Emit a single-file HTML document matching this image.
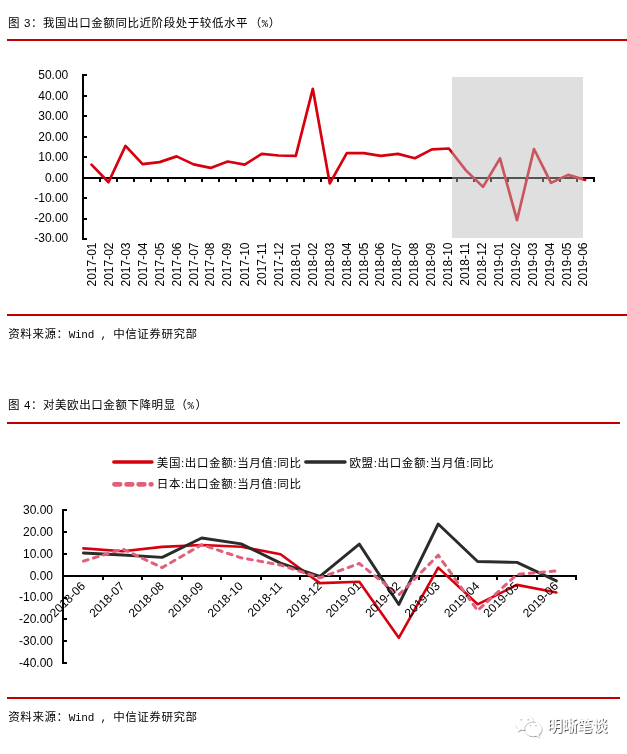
<!DOCTYPE html>
<html lang="zh-CN"><head><meta charset="utf-8"><title>图表</title>
<style>
html,body{margin:0;padding:0;background:#fff;}
body{width:627px;height:754px;overflow:hidden;position:relative;}
svg{position:absolute;left:0;top:0;display:block;}
.cn{font-family:"Liberation Sans","Noto Sans CJK SC",sans-serif;font-size:11.5px;letter-spacing:0.57px;fill:#000;}
.mono{font-family:"Liberation Mono","Noto Sans CJK SC",monospace;}
.ax{font-family:"Liberation Sans",sans-serif;font-size:12px;fill:#000;}
.axis{stroke:#000;stroke-width:2;fill:none;shape-rendering:crispEdges;}
.rule{fill:#c00000;}
</style></head><body>
<svg width="627" height="754" viewBox="0 0 627 754">
<rect x="0" y="0" width="627" height="754" fill="#fff"/>
<!-- 图3 -->
<text class="cn" x="8.1" y="26.6">图 3：我国出口金额同比近阶段处于较低水平<tspan dx="1.6">（</tspan><tspan class="mono" font-size="10.5" letter-spacing="0">%</tspan><tspan dx="0.7">）</tspan></text>
<rect class="rule" x="7" y="39" width="620" height="2"/>
<path class="axis" d="M83,74V240M83,75h4M83,96h4M83,116h4M83,137h4M83,157h4M83,198h4M83,219h4M83,239h4M82,178H595M100,178v4M117,178v4M134,178v4M151,178v4M168,178v4M185,178v4M202,178v4M219,178v4M236,178v4M253,178v4M270,178v4M287,178v4M304,178v4M321,178v4M338,178v4M355,178v4M372,178v4M389,178v4M406,178v4M423,178v4M440,178v4M457,178v4M474,178v4M491,178v4M508,178v4M526,178v4M543,178v4M560,178v4M577,178v4M594,178v4"/>
<text class="ax" x="68.3" y="79" text-anchor="end">50.00</text>
<text class="ax" x="68.3" y="100" text-anchor="end">40.00</text>
<text class="ax" x="68.3" y="120" text-anchor="end">30.00</text>
<text class="ax" x="68.3" y="141" text-anchor="end">20.00</text>
<text class="ax" x="68.3" y="161" text-anchor="end">10.00</text>
<text class="ax" x="68.3" y="182" text-anchor="end">0.00</text>
<text class="ax" x="68.3" y="202" text-anchor="end">-10.00</text>
<text class="ax" x="68.3" y="222" text-anchor="end">-20.00</text>
<text class="ax" x="68.3" y="242" text-anchor="end">-30.00</text>
<polyline points="91.5,164.6 108.5,182.3 125.5,145.9 142.6,164.2 159.6,162.1 176.6,156.4 193.6,164.4 210.6,167.9 227.7,161.5 244.7,164.6 261.7,153.9 278.7,155.5 295.8,155.8 312.8,88.8 329.8,183.4 346.8,153.1 363.8,153.1 380.8,155.8 397.9,153.9 414.9,158.2 431.9,149.4 448.9,148.5 465.9,170.4 483.0,186.9 500.0,158.4 517.0,220.2 534.0,149.0 551.0,182.9 568.1,174.9 585.1,179.9" fill="none" stroke="#d7000f" stroke-width="2.7" stroke-linejoin="round" stroke-linecap="round"/>
<rect x="452" y="77" width="131" height="161" fill="#bababa" fill-opacity="0.46"/>
<text class="ax" transform="translate(96,242.5) rotate(-90)" text-anchor="end">2017-01</text>
<text class="ax" transform="translate(113,242.5) rotate(-90)" text-anchor="end">2017-02</text>
<text class="ax" transform="translate(130,242.5) rotate(-90)" text-anchor="end">2017-03</text>
<text class="ax" transform="translate(147,242.5) rotate(-90)" text-anchor="end">2017-04</text>
<text class="ax" transform="translate(164,242.5) rotate(-90)" text-anchor="end">2017-05</text>
<text class="ax" transform="translate(181,242.5) rotate(-90)" text-anchor="end">2017-06</text>
<text class="ax" transform="translate(198,242.5) rotate(-90)" text-anchor="end">2017-07</text>
<text class="ax" transform="translate(214,242.5) rotate(-90)" text-anchor="end">2017-08</text>
<text class="ax" transform="translate(231,242.5) rotate(-90)" text-anchor="end">2017-09</text>
<text class="ax" transform="translate(249,242.5) rotate(-90)" text-anchor="end">2017-10</text>
<text class="ax" transform="translate(266,242.5) rotate(-90)" text-anchor="end">2017-11</text>
<text class="ax" transform="translate(283,242.5) rotate(-90)" text-anchor="end">2017-12</text>
<text class="ax" transform="translate(300,242.5) rotate(-90)" text-anchor="end">2018-01</text>
<text class="ax" transform="translate(317,242.5) rotate(-90)" text-anchor="end">2018-02</text>
<text class="ax" transform="translate(334,242.5) rotate(-90)" text-anchor="end">2018-03</text>
<text class="ax" transform="translate(351,242.5) rotate(-90)" text-anchor="end">2018-04</text>
<text class="ax" transform="translate(368,242.5) rotate(-90)" text-anchor="end">2018-05</text>
<text class="ax" transform="translate(384,242.5) rotate(-90)" text-anchor="end">2018-06</text>
<text class="ax" transform="translate(401,242.5) rotate(-90)" text-anchor="end">2018-07</text>
<text class="ax" transform="translate(418,242.5) rotate(-90)" text-anchor="end">2018-08</text>
<text class="ax" transform="translate(435,242.5) rotate(-90)" text-anchor="end">2018-09</text>
<text class="ax" transform="translate(452,242.5) rotate(-90)" text-anchor="end">2018-10</text>
<text class="ax" transform="translate(469,242.5) rotate(-90)" text-anchor="end">2018-11</text>
<text class="ax" transform="translate(486,242.5) rotate(-90)" text-anchor="end">2018-12</text>
<text class="ax" transform="translate(503,242.5) rotate(-90)" text-anchor="end">2019-01</text>
<text class="ax" transform="translate(520,242.5) rotate(-90)" text-anchor="end">2019-02</text>
<text class="ax" transform="translate(537,242.5) rotate(-90)" text-anchor="end">2019-03</text>
<text class="ax" transform="translate(554,242.5) rotate(-90)" text-anchor="end">2019-04</text>
<text class="ax" transform="translate(571,242.5) rotate(-90)" text-anchor="end">2019-05</text>
<text class="ax" transform="translate(587,242.5) rotate(-90)" text-anchor="end">2019-06</text>
<rect class="rule" x="7" y="314" width="620" height="2"/>
<text class="cn" x="8.3" y="338.0">资料来源：<tspan class="mono" font-size="11" letter-spacing="-0.25">Wind , </tspan>中信证券研究部</text>
<!-- 图4 -->
<text class="cn" x="8.1" y="408.6">图 4：对美欧出口金额下降明显<tspan dx="-0.2">（</tspan><tspan class="mono" font-size="10.5" letter-spacing="0">%</tspan><tspan dx="1.5">）</tspan></text>
<rect class="rule" x="7" y="422" width="613" height="2"/>
<line x1="113.8" y1="462" x2="152" y2="462" stroke="#d7000f" stroke-width="3.4" stroke-linecap="round"/>
<text class="cn" x="156.8" y="466.5" textLength="144.7">美国:出口金额:当月值:同比</text>
<line x1="305.8" y1="462" x2="345" y2="462" stroke="#2b2b2b" stroke-width="3.4" stroke-linecap="round"/>
<text class="cn" x="349.5" y="466.5" textLength="144.7">欧盟:出口金额:当月值:同比</text>
<line x1="114.5" y1="484.3" x2="151.5" y2="484.3" stroke="#e0607a" stroke-width="4.8" stroke-linecap="round" stroke-dasharray="5.6 6.5"/>
<text class="cn" x="156.8" y="488.4" textLength="144.7">日本:出口金额:当月值:同比</text>
<path class="axis" d="M63,509V664M63,510h4M63,532h4M63,554h4M63,598h4M63,619h4M63,641h4M63,663h4M62,576H577M103,576v4M142,576v4M182,576v4M221,576v4M261,576v4M300,576v4M340,576v4M379,576v4M419,576v4M458,576v4M497,576v4M537,576v4M576,576v4"/>
<text class="ax" x="53" y="514" text-anchor="end">30.00</text>
<text class="ax" x="53" y="536" text-anchor="end">20.00</text>
<text class="ax" x="53" y="558" text-anchor="end">10.00</text>
<text class="ax" x="53" y="580" text-anchor="end">0.00</text>
<text class="ax" x="53" y="601" text-anchor="end">-10.00</text>
<text class="ax" x="53" y="623" text-anchor="end">-20.00</text>
<text class="ax" x="53" y="645" text-anchor="end">-30.00</text>
<text class="ax" x="53" y="667" text-anchor="end">-40.00</text>
<polyline points="83.4,548.4 122.8,551.3 162.2,546.9 201.7,545.0 241.1,546.7 280.5,554.3 319.9,583.1 359.3,581.8 398.8,637.8 438.2,567.6 477.6,604.3 517.0,584.9 556.4,592.5" fill="none" stroke="#d7000f" stroke-width="2.6" stroke-linejoin="round" stroke-linecap="round"/>
<polyline points="83.4,553.0 122.8,555.0 162.2,557.4 201.7,538.0 241.1,543.9 280.5,563.1 319.9,576.4 359.3,544.1 398.8,604.5 438.2,524.0 477.6,561.5 517.0,562.4 556.4,580.9" fill="none" stroke="#2b2b2b" stroke-width="2.9" stroke-linejoin="round" stroke-linecap="round"/>
<polyline points="83.4,561.1 122.8,549.1 162.2,567.6 201.7,544.7 241.1,557.8 280.5,565.0 319.9,577.9 359.3,563.5 398.8,594.9 438.2,555.2 477.6,610.6 517.0,574.4 556.4,570.9" fill="none" stroke="#e0607a" stroke-width="3" stroke-linejoin="round" stroke-linecap="round" stroke-dasharray="4.8 5.7"/>
<text class="ax" transform="translate(85.9,586.9) rotate(-45)" text-anchor="end">2018-06</text>
<text class="ax" transform="translate(125.3,586.9) rotate(-45)" text-anchor="end">2018-07</text>
<text class="ax" transform="translate(164.7,586.9) rotate(-45)" text-anchor="end">2018-08</text>
<text class="ax" transform="translate(204.2,586.9) rotate(-45)" text-anchor="end">2018-09</text>
<text class="ax" transform="translate(243.6,586.9) rotate(-45)" text-anchor="end">2018-10</text>
<text class="ax" transform="translate(283.0,586.9) rotate(-45)" text-anchor="end">2018-11</text>
<text class="ax" transform="translate(322.4,586.9) rotate(-45)" text-anchor="end">2018-12</text>
<text class="ax" transform="translate(361.8,586.9) rotate(-45)" text-anchor="end">2019-01</text>
<text class="ax" transform="translate(401.3,586.9) rotate(-45)" text-anchor="end">2019-02</text>
<text class="ax" transform="translate(440.7,586.9) rotate(-45)" text-anchor="end">2019-03</text>
<text class="ax" transform="translate(480.1,586.9) rotate(-45)" text-anchor="end">2019-04</text>
<text class="ax" transform="translate(519.5,586.9) rotate(-45)" text-anchor="end">2019-05</text>
<text class="ax" transform="translate(558.9,586.9) rotate(-45)" text-anchor="end">2019-06</text>
<rect class="rule" x="7" y="697" width="613" height="2"/>
<text class="cn" x="8.3" y="721.1">资料来源：<tspan class="mono" font-size="11" letter-spacing="-0.25">Wind , </tspan>中信证券研究部</text>
<defs><filter id="ws" x="-20%" y="-20%" width="140%" height="140%"><feDropShadow dx="0.5" dy="0.7" stdDeviation="0.45" flood-color="#000" flood-opacity="0.6"/></filter><filter id="wt" x="-10%" y="-20%" width="120%" height="140%"><feDropShadow dx="0.8" dy="0.8" stdDeviation="0.5" flood-color="#000" flood-opacity="0.8"/></filter></defs>
<g fill="#fff" filter="url(#ws)">
<path d="M524.3,714.9c5.2,0 9.4,3.4 9.4,7.6c0,4.2 -4.2,7.6 -9.4,7.6c-1.2,0 -2.3,-0.2 -3.3,-0.5l-3.6,2.1l1,-3.2c-2.1,-1.4 -3.5,-3.6 -3.5,-6c0,-4.2 4.2,-7.6 9.4,-7.6z"/>
<path d="M533.3,722.1c4.6,0 8.3,3.2 8.3,7.1c0,2.2 -1.2,4.2 -3.1,5.5l0.8,2.7l-3,-1.7c-0.9,0.3 -1.9,0.5 -3,0.5c-4.6,0 -8.3,-3.2 -8.3,-7c0,-3.9 3.7,-7.1 8.3,-7.1z"/>
</g>
<path d="M525.2,731.4A8.3,7.1 0 0 1 535.6,722.4" fill="none" stroke="#7d7d7d" stroke-opacity="0.6" stroke-width="0.8"/>
<g fill="#c9c9c9"><circle cx="521.4" cy="719.8" r="1"/><circle cx="528.3" cy="719.8" r="1"/><circle cx="530.5" cy="725.6" r="0.9"/><circle cx="536" cy="725.6" r="0.9"/></g>
<text x="547.5" y="731.2" font-family='"Liberation Sans","Noto Sans CJK SC",sans-serif' font-size="15" font-weight="500" fill="#fff" filter="url(#wt)">明晰笔谈</text>
</svg>
</body></html>
